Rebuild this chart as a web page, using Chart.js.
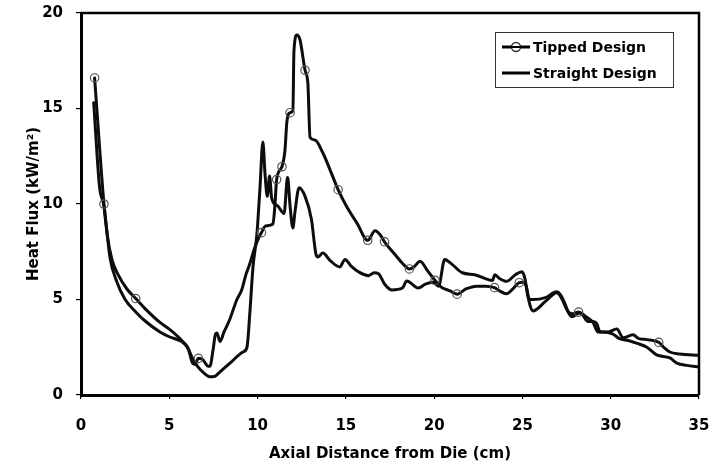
<!DOCTYPE html>
<html>
<head>
<meta charset="utf-8">
<script src="https://cdn.jsdelivr.net/npm/chart.js@4.4.1/dist/chart.umd.min.js"></script>
<style>
  body { margin: 0; background: #fff; }
  #wrap { width: 714px; height: 465px; }
</style>
</head>
<body>
<div id="wrap"><canvas id="fluxChart" width="714" height="465"></canvas></div>
<script>
// Tipped design - trace between the circles
const tippedX = [1.5, 1.75, 2.1, 2.6, 3.6, 4.47, 5.0, 5.5, 5.9, 6.1, 6.3, 6.45, 6.9, 7.05, 7.2, 7.3, 7.47, 7.62, 7.7, 7.87, 8.1, 8.4, 8.83, 9.1, 9.34, 9.57, 9.8, 10.05,
  10.45, 10.87, 10.98, 11.55, 11.66, 12.0, 12.06, 12.23, 12.4, 12.85, 12.97, 13.25, 13.7, 14.27, 15.06, 15.63, 16.65, 16.93, 17.83, 18.2, 18.85, 19.2, 19.63,
  20.4, 20.9, 21.8, 22.4, 22.9, 23.7, 24.1, 24.5, 25.0, 25.2, 25.4, 25.6, 26.3, 26.95, 27.15, 27.4, 27.6, 27.86, 28.4, 28.7, 29.0, 29.2, 29.4, 29.8,
  30.35, 30.7, 31.26, 31.6, 32.05, 33.0, 33.35, 33.9, 35.0];
const tippedY = [8.3, 7.1, 6.3, 5.55, 4.55, 3.8, 3.45, 3.05, 2.65, 2.35, 1.7, 1.6, 1.85, 1.65, 1.5, 1.5, 2.3, 3.2, 3.25, 2.8, 3.3, 3.9, 5.0, 5.5, 6.3, 6.9, 7.6, 8.2,
  8.85, 8.95, 9.9, 12.8, 14.3, 14.9, 18.0, 18.85, 18.6, 16.3, 13.5, 13.35, 12.67, 11.41, 9.84, 9.0, 8.6, 8.4, 7.3, 6.9, 6.7, 7.0, 6.5,
  5.65, 5.45, 5.55, 5.7, 5.7, 5.45, 5.3, 5.6, 5.9, 5.75, 5.0, 5.0, 5.1, 5.4, 5.25, 4.8, 4.35, 4.25, 4.2, 3.85, 3.85, 3.75, 3.3, 3.3,
  3.45, 3.0, 3.15, 2.95, 2.9, 2.5, 2.25, 2.15, 2.08];

// circles on the tipped design curve
const tippedMarkX = [0.77, 1.3, 3.1, 6.65, 10.22, 11.08, 11.38, 11.84, 12.69, 14.56, 16.24, 17.19, 18.6, 20.05, 21.3, 23.42, 24.82, 28.18, 32.72];
const tippedMarkY = [16.6, 10.0, 5.05, 1.92, 8.5, 11.28, 11.95, 14.78, 17.0, 10.75, 8.1, 8.02, 6.6, 6.0, 5.28, 5.62, 5.88, 4.34, 2.76];

// Straight design
const straightX = [0.72, 1.05, 1.3, 1.64, 2.0, 2.5, 3.1, 3.6, 4.47, 5.0, 5.7, 6.0, 6.3, 6.6, 7.0, 7.3, 7.6, 7.8, 8.44, 9.17, 9.4, 9.57, 9.74, 9.96, 10.14,
  10.3, 10.42, 10.55, 10.68, 10.8, 11.14, 11.5, 11.7, 11.84, 12.0, 12.12, 12.35, 12.69, 13.05, 13.3, 13.42, 13.7, 14.1, 14.66, 14.95, 15.3, 15.77,
  16.29, 16.6, 16.85, 17.2, 17.6, 18.2, 18.45, 19.1, 19.5, 19.93, 20.25, 20.6, 21.0, 21.6, 22.3, 23.3, 23.44, 23.7, 24.1, 24.6, 24.97, 25.14, 25.3,
  25.6, 26.3, 26.95, 27.2, 27.5, 27.8, 28.26, 28.6, 29.0, 29.28, 29.6, 30.1, 30.5, 31.0, 31.5, 32.05, 32.6, 33.35, 33.75, 34.3, 35.0];
const straightY = [15.3, 10.9, 9.9, 7.2, 6.0, 5.0, 4.35, 3.9, 3.3, 3.05, 2.8, 2.55, 1.95, 1.5, 1.12, 0.95, 0.98, 1.15, 1.67, 2.25, 2.5, 4.4, 6.7, 8.4, 10.9,
  13.25, 11.6, 10.4, 11.46, 10.3, 9.9, 9.5, 11.4, 9.9, 8.75, 9.6, 10.85, 10.4, 9.2, 7.4, 7.23, 7.43, 7.05, 6.7, 7.1, 6.75, 6.42,
  6.25, 6.4, 6.35, 5.8, 5.5, 5.6, 5.97, 5.6, 5.8, 5.9, 5.7, 7.1, 6.85, 6.4, 6.3, 6.0, 6.3, 6.1, 5.95, 6.3, 6.45, 6.1, 5.2,
  4.4, 4.9, 5.35, 5.1, 4.5, 4.1, 4.3, 4.1, 3.8, 3.3, 3.3, 3.2, 2.95, 2.85, 2.7, 2.5, 2.1, 1.94, 1.67, 1.55, 1.47];

const xTicks = [0, 5, 10, 15, 20, 25, 30, 35];
const yTicks = [0, 5, 10, 15, 20];
const seriesNames = ['Tipped Design', 'Straight Design'];

const toPoints = (xs, ys) => xs.map((x, i) => ({ x: x, y: ys[i] }));
const tippedLine = toPoints(tippedX, tippedY).concat(toPoints(tippedMarkX, tippedMarkY)).sort((a, b) => a.x - b.x);

Chart.defaults.font.family = '"DejaVu Sans", sans-serif';
Chart.defaults.font.weight = 'bold';
Chart.defaults.color = '#000';

// fixed axis sizes, no extra label padding
function fixBox(size) {
  return s => {
    if (s.isHorizontal()) s.height = size; else s.width = size;
    s.paddingTop = 0;
    s.paddingBottom = 0;
    s.paddingLeft = 0;
    s.paddingRight = 0;
  };
}

// top/right frame of the plot box
const frame = {
  id: 'frame',
  afterDatasetsDraw(chart) {
    const { ctx, chartArea: a } = chart;
    ctx.save();
    ctx.strokeStyle = '#000';
    ctx.lineWidth = 2.5;
    ctx.beginPath();
    ctx.moveTo(a.left, a.top);
    ctx.lineTo(a.right, a.top);
    ctx.lineTo(a.right, a.bottom);
    ctx.stroke();
    ctx.restore();
  }
};

// boxed legend in the upper right corner
const boxLegend = {
  id: 'boxLegend',
  afterDraw(chart) {
    const { ctx, chartArea: a } = chart;
    const left = a.right - 204, top = a.top + 19, w = 178, h = 55;
    ctx.save();
    ctx.fillStyle = '#fff';
    ctx.fillRect(left, top, w, h);
    ctx.strokeStyle = '#333';
    ctx.lineWidth = 1;
    ctx.strokeRect(left + 0.5, top + 0.5, w, h);

    ctx.font = 'bold 14px "DejaVu Sans", sans-serif';
    ctx.textBaseline = 'middle';
    ctx.fillStyle = '#000';
    seriesNames.forEach((name, i) => {
      const y = top + 15 + i * 26;
      ctx.strokeStyle = '#000';
      ctx.lineWidth = 3;
      ctx.beginPath();
      ctx.moveTo(left + 7, y);
      ctx.lineTo(left + 35, y);
      ctx.stroke();
      if (i === 0) {
        ctx.lineWidth = 1.4;
        ctx.strokeStyle = '#333';
        ctx.fillStyle = '#fff';
        ctx.beginPath();
        ctx.arc(left + 21, y, 4.5, 0, Math.PI * 2);
        ctx.fill();
        ctx.stroke();
        ctx.beginPath();
        ctx.moveTo(left + 16, y);
        ctx.lineTo(left + 26, y);
        ctx.lineWidth = 2;
        ctx.strokeStyle = '#000';
        ctx.stroke();
        ctx.fillStyle = '#000';
      }
      ctx.fillText(name, left + 38, y + 1);
    });
    ctx.restore();
  }
};

new Chart(document.getElementById('fluxChart'), {
  type: 'line',
  data: {
    datasets: [
      {
        label: 'Tipped Design markers',
        data: toPoints(tippedMarkX, tippedMarkY),
        showLine: false,
        pointRadius: 4.2,
        pointBorderWidth: 1.2,
        pointBorderColor: '#555',
        pointBackgroundColor: 'rgba(255,255,255,0)'
      },
      {
        label: seriesNames[0],
        data: tippedLine,
        borderColor: '#0d0d0d',
        borderWidth: 3,
        pointRadius: 0,
        cubicInterpolationMode: 'monotone',
        borderJoinStyle: 'round',
        borderCapStyle: 'round'
      },
      {
        label: seriesNames[1],
        data: toPoints(straightX, straightY),
        borderColor: '#0d0d0d',
        borderWidth: 3,
        pointRadius: 0,
        cubicInterpolationMode: 'monotone',
        borderJoinStyle: 'round',
        borderCapStyle: 'round'
      }
    ]
  },
  options: {
    responsive: false,
    animation: false,
    devicePixelRatio: 1,
    layout: { padding: { left: 0, right: 15, top: 13, bottom: 0 } },
    plugins: { legend: { display: false }, tooltip: { enabled: false } },
    scales: {
      x: {
        type: 'linear',
        min: 0,
        max: 35,
        afterBuildTicks: s => { s.ticks = xTicks.map(v => ({ value: v })); },
        afterFit: fixBox(70),
        grid: { drawOnChartArea: false, drawTicks: true, tickLength: 4, color: '#000', lineWidth: 1.2 },
        border: { display: true, color: '#000', width: 3 },
        ticks: { padding: 18, color: '#000', maxRotation: 0, font: { size: 15, weight: 'bold' } },
        title: {
          display: true,
          text: 'Axial Distance from Die (cm)',
          color: '#000',
          font: { size: 15, weight: 'bold' },
          padding: { bottom: 2 }
        }
      },
      y: {
        type: 'linear',
        min: 0,
        max: 20,
        afterBuildTicks: s => { s.ticks = yTicks.map(v => ({ value: v })); },
        afterFit: fixBox(81),
        grid: { drawOnChartArea: false, drawTicks: true, tickLength: 5, color: '#000', lineWidth: 1.2 },
        border: { display: true, color: '#000', width: 3 },
        ticks: { padding: 13, color: '#000', font: { size: 15, weight: 'bold' } },
        title: {
          display: true,
          text: 'Heat Flux (kW/m²)',
          color: '#000',
          font: { size: 15, weight: 'bold' },
          padding: { top: 25 }
        }
      }
    }
  },
  plugins: [frame, boxLegend]
});
</script>
</body>
</html>
